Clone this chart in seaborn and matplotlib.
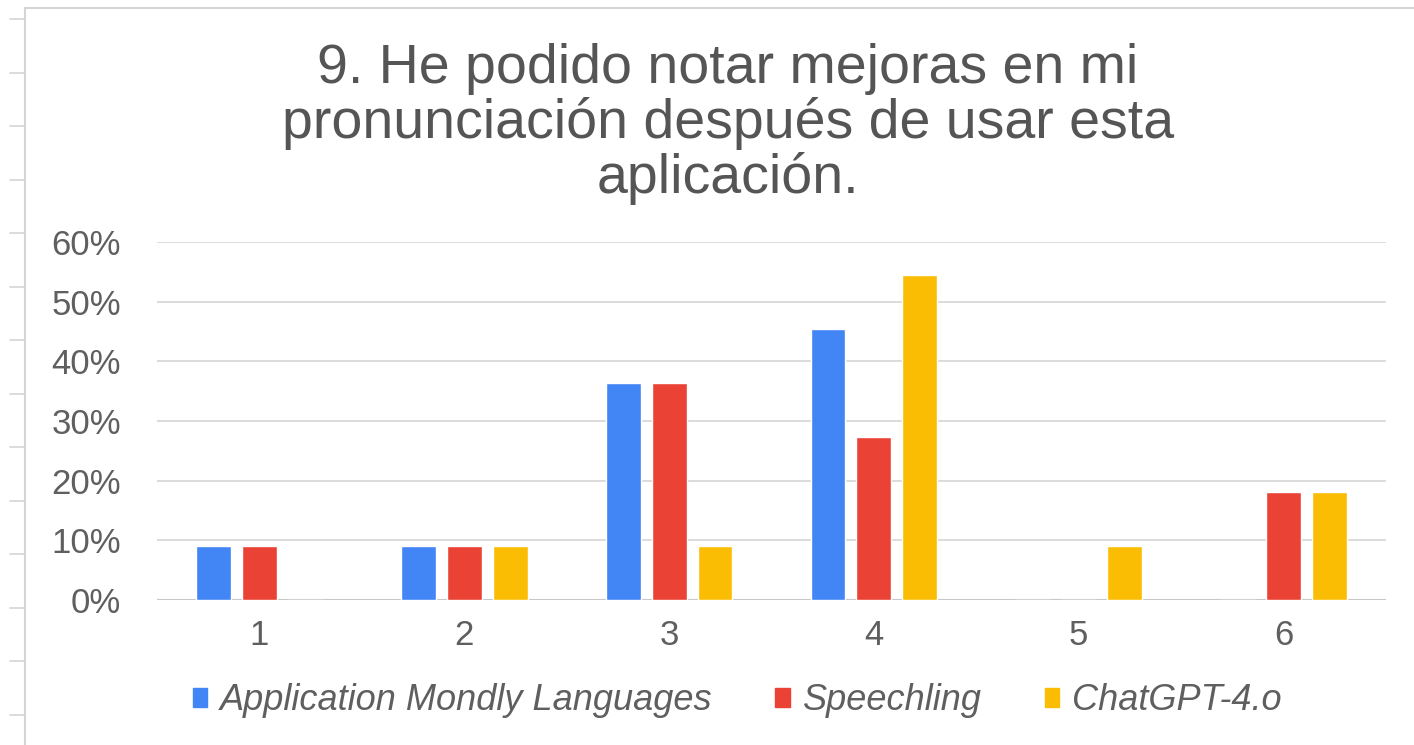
import matplotlib.pyplot as plt
import pandas as pd
import seaborn as sns
from matplotlib.lines import Line2D
from matplotlib.patches import Rectangle
from matplotlib.ticker import PercentFormatter

# Response options (scale 1-6)
options = ["1", "2", "3", "4", "5", "6"]

# Share of respondents per option (out of 11 respondents)
mondly = [9.09, 9.09, 36.36, 45.45, 0.0, 0.0]
speechling = [9.09, 9.09, 36.36, 27.27, 0.0, 18.18]
chatgpt = [0.0, 9.09, 9.09, 54.55, 9.09, 18.18]

series_names = ["Application Mondly Languages", "Speechling", "ChatGPT-4.o"]
colors = ["#4285F4", "#EA4335", "#FBBC04"]

title = "9. He podido notar mejoras en mi\npronunciación después de usar esta\naplicación."

# Long-form table for seaborn
df = pd.DataFrame({
    "option": options * 3,
    "value": mondly + speechling + chatgpt,
    "app": [series_names[0]] * 6 + [series_names[1]] * 6 + [series_names[2]] * 6,
})

sns.set_theme(style="white")
plt.rcParams["font.family"] = ["Liberation Sans", "DejaVu Sans"]

W, H = 1414, 745
fig = plt.figure(figsize=(W / 100, H / 100), dpi=100)
ax = fig.add_axes([157 / W, 1 - 600 / H, (1386 - 157) / W, (600 - 242) / H])

sns.barplot(data=df, x="option", y="value", hue="app", palette=colors,
            width=0.673, gap=0.24, ax=ax, zorder=2, saturation=1, legend=False)

ax.set_ylim(0, 60)
ax.set_xlim(-0.5, 5.5)
ax.set_yticks(range(0, 61, 10))
ax.yaxis.set_major_formatter(PercentFormatter(decimals=0))
ax.grid(axis="y", color="#d9d9d9", linewidth=1.3, zorder=0)
ax.axhline(0, color="#c8c8c8", linewidth=1.5, zorder=1)
for s in ax.spines.values():
    s.set_visible(False)
ax.set_xlabel("")
ax.set_ylabel("")
ax.tick_params(axis="y", length=0, pad=26, labelsize=25, labelcolor="#5f5f5f")
ax.tick_params(axis="x", length=0, pad=14, labelsize=25, labelcolor="#5f5f5f")

# Legend below the plot
handles = [Rectangle((0, 0), 1, 1, color=c) for c in colors]
leg = fig.legend(handles, series_names, loc="center", bbox_to_anchor=(737 / W, 1 - 701 / H),
                 ncol=3, frameon=False, handlelength=0.4, handleheight=0.4,
                 handletextpad=0.35, columnspacing=1.75,
                 prop={"size": 26, "style": "italic"})
for t in leg.get_texts():
    t.set_color("#5f5f5f")

fig.text(728 / W, 1 - 43 / H, title, ha="center", va="top", fontsize=40,
         color="#555555", linespacing=1.05)

# Chart border and sheet row ticks on the left
fig.add_artist(Line2D([25 / W, 25 / W], [0, 1 - 8 / H], transform=fig.transFigure,
                      color="#d4d4d4", linewidth=1.5))
fig.add_artist(Line2D([25 / W, 1], [1 - 8 / H, 1 - 8 / H], transform=fig.transFigure,
                      color="#d4d4d4", linewidth=1.5))
for k in range(14):
    yy = 1 - (19 + 53.5 * k) / H
    fig.add_artist(Line2D([10 / W, 25 / W], [yy, yy], transform=fig.transFigure,
                          color="#d4d4d4", linewidth=1.2))

fig.savefig("out.png", dpi=100)
